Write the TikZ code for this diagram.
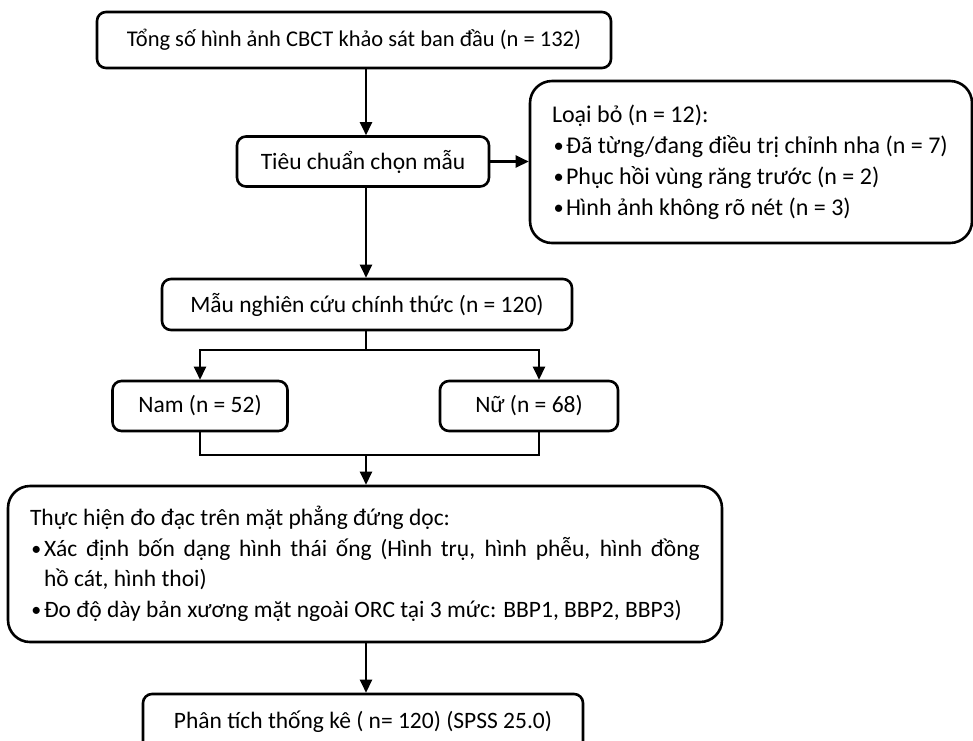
\documentclass[tikz,border=0pt]{standalone}
\usepackage{fontspec}
\usepackage{graphicx}
\setmainfont{Carlito}
\usetikzlibrary{arrows.meta}
\setlength{\parindent}{0pt}

\tikzset{
  box/.style={draw=black, line width=2.6pt, rounded corners=9pt, align=center,
              font=\fontsize{23.5}{30.5}\selectfont, inner sep=0pt},
  bigbox/.style={box, rounded corners=22pt, align=justify},
  flow/.style={line width=2.4pt, -{Triangle[length=13pt,width=12pt]}},
  link/.style={line width=2.4pt}
}
\newcommand{\itm}{\makebox[14pt][l]{\hspace{1.5pt}\raisebox{1pt}{\scalebox{0.85}{\textbullet}}}}

\begin{document}
\begin{tikzpicture}[x=1pt,y=-1pt]
\clip (0,0) rectangle (973,740);

% cac hop chinh
\node[box, minimum width=514pt, minimum height=56pt,
      font=\fontsize{22.5}{30}\selectfont] (tong) at (354,40)
  {Tổng số hình ảnh CBCT khảo sát ban đầu (n = 132)};
\node[box, minimum width=252pt, minimum height=50pt] (tieuchuan) at (363,161.5)
  {Tiêu chuẩn chọn mẫu};
\node[bigbox, minimum width=442pt, minimum height=162pt, text width=398pt,
      font=\fontsize{24}{31}\selectfont] (loaibo) at (751,162)
  {Loại bỏ (n = 12):\par
   \itm Đã từng/đang điều trị chỉnh nha (n = 7)\par
   \itm Phục hồi vùng răng trước (n = 2)\par
   \itm Hình ảnh không rõ nét (n = 3)};
\node[box, minimum width=410pt, minimum height=51pt] (mau) at (367,304.5)
  {Mẫu nghiên cứu chính thức (n = 120)};
\node[box, minimum width=175pt, minimum height=50pt] (nam) at (200,406)
  {Nam (n = 52)};
\node[box, minimum width=178pt, minimum height=50pt] (nu) at (529,406)
  {Nữ (n = 68)};
\node[bigbox, minimum width=714pt, minimum height=156pt, text width=670pt,
      font=\fontsize{23.5}{30.5}\selectfont] (dodac) at (365,564)
  {Thực hiện đo đạc trên mặt phẳng đứng dọc:\par
   \hangindent=14pt\hangafter=1
   \itm Xác định bốn dạng hình thái ống (Hình trụ, hình phễu, hình đồng\linebreak
   hồ cát, hình thoi)\par
   \itm Đo độ dày bản xương mặt ngoài ORC tại 3 mức: BBP1, BBP2, BBP3)};
\node[box, minimum width=440pt, minimum height=56pt] (thongke) at (363,722)
  {Phân tích thống kê ( n= 120) (SPSS 25.0)};

\coordinate (tach) at (366,350);
\coordinate (gop) at (366,455);

% mui ten
\draw[flow] (tong.south -| tach) -- (tieuchuan.north -| tach);
\draw[flow] (tieuchuan.east) -- (loaibo.west |- tieuchuan.east);
\draw[flow] (tieuchuan.south -| tach) -- (mau.north -| tach);
\draw[link] (mau.south -| tach) -- (tach);
\draw[flow] (tach) -| (nam.north);
\draw[flow] (tach) -| ([xshift=10pt]nu.north);
\draw[link] (nam.south) |- (gop) -| ([xshift=10pt]nu.south);
\draw[flow] (gop) -- (dodac.north -| gop);
\draw[flow] (dodac.south -| gop) -- (thongke.north -| gop);

\end{tikzpicture}
\end{document}
